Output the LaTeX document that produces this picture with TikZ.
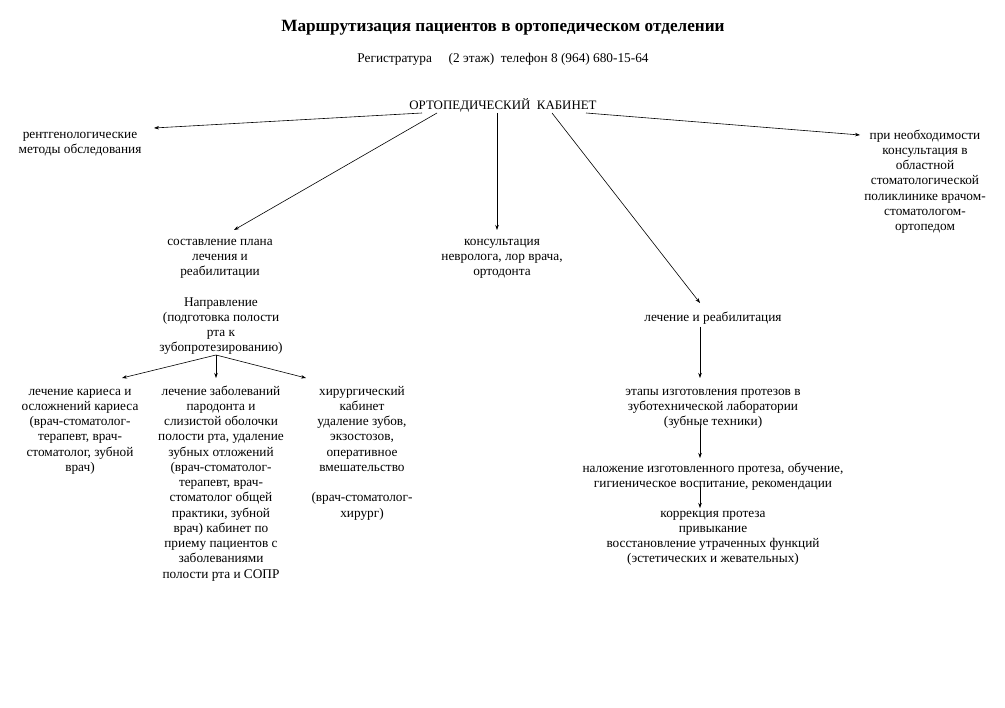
\documentclass[tikz,border=0pt]{standalone}
\usepackage{fontspec}
\setmainfont{Liberation Serif}
\usetikzlibrary{arrows.meta}
\newcommand\fstl{\rule{0pt}{10pt}}
\tikzset{
  txt/.style={inner sep=0pt, anchor=north, align=center, font=\fontsize{13.3}{15.25}\selectfont},
  arr/.style={-{Stealth[length=5pt,width=3.5pt]}, line width=0.6pt}
}
\begin{document}
\begin{tikzpicture}[x=1pt,y=-1pt]
\useasboundingbox[fill=white] (0,0) rectangle (1005,708);
\node[inner sep=0pt, font=\bfseries\fontsize{17.2}{20}\selectfont] (title) at (503,28) {Маршрутизация пациентов в ортопедическом отделении};
\node[inner sep=0pt, font=\fontsize{13.3}{15}\selectfont] (reg) at (503,59) {Регистратура\quad\ (2 этаж)\ \ телефон 8 (964) 680-15-64};
\node[inner sep=0pt, font=\fontsize{12.9}{15}\selectfont] (cab) at (503,105) {ОРТОПЕДИЧЕСКИЙ\ \ КАБИНЕТ};

\node[txt] (rent) at (80,128) {\fstl рентгенологические\\методы обследования};
\node[txt] (plan) at (220,235) {\fstl составление плана\\лечения и\\реабилитации};
\node[txt] (napr) at (221,296) {\fstl Направление\\(подготовка полости\\рта к\\зубопротезированию)};
\node[txt] (kar) at (80,385) {\fstl лечение кариеса и\\осложнений кариеса\\(врач-стоматолог-\\терапевт, врач-\\стоматолог, зубной\\врач)};
\node[txt] (par) at (221,385) {\fstl лечение заболеваний\\пародонта и\\слизистой оболочки\\полости рта, удаление\\зубных отложений\\(врач-стоматолог-\\терапевт, врач-\\стоматолог общей\\практики, зубной\\врач) кабинет по\\приему пациентов с\\заболеваниями\\полости рта и СОПР};
\node[txt] (hir) at (362,385) {\fstl хирургический\\кабинет\\удаление зубов,\\экзостозов,\\оперативное\\вмешательство\\[15.25pt](врач-стоматолог-\\хирург)};
\node[txt] (kons) at (502,235) {\fstl консультация\\невролога, лор врача,\\ортодонта};
\node[txt] (obl) at (925,129) {\fstl при необходимости\\консультация в\\областной\\стоматологической\\поликлинике врачом-\\стоматологом-\\ортопедом};
\node[txt] (lech) at (713,311) {\fstl лечение и реабилитация};
\node[txt] (etap) at (713,385) {\fstl этапы изготовления протезов в\\зуботехнической лаборатории\\(зубные техники)};
\node[txt] (nal) at (713,462) {\fstl наложение изготовленного протеза, обучение,\\гигиеническое воспитание, рекомендации};
\node[txt] (korr) at (713,507) {\fstl коррекция протеза\\привыкание\\восстановление утраченных функций\\(эстетических и жевательных)};

\coordinate (c0) at (422,113);
\coordinate (c1) at (437,113);
\coordinate (c2) at (497,113);
\coordinate (c3) at (552,113);
\coordinate (c4) at (586,113);
\coordinate (rentE) at (154,128);
\coordinate (planN) at (234,230);
\coordinate (konsN) at (497,230);
\coordinate (lechN) at (700,303);
\coordinate (oblW) at (860,135);
\draw[arr] (c0) -- (rentE);
\draw[arr] (c1) -- (planN);
\draw[arr] (c2) -- (konsN);
\draw[arr] (c3) -- (lechN);
\draw[arr] (c4) -- (oblW);

\coordinate (n0) at (216,355);
\coordinate (karN) at (122,378);
\coordinate (parN) at (216,378);
\coordinate (hirN) at (306,378);
\draw[arr] (n0) -- (karN);
\draw[arr] (n0) -- (parN);
\draw[arr] (n0) -- (hirN);

\coordinate (l0) at (700,327);
\coordinate (e0) at (700,378);
\draw[arr] (l0) -- (e0);
\coordinate (e1) at (700,425);
\coordinate (n1) at (700,458);
\draw[arr] (e1) -- (n1);
\coordinate (n2) at (700,487);
\coordinate (k1) at (700,508);
\draw[arr] (n2) -- (k1);
\end{tikzpicture}
\end{document}
